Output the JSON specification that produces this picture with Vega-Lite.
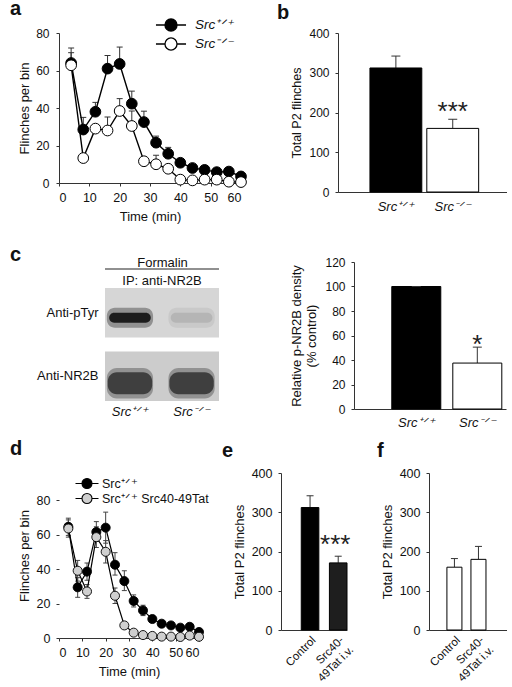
{
  "$schema": "https://vega.github.io/schema/vega-lite/v6.json",
  "padding": {"left": 10, "top": -1, "right": 0, "bottom": 0},
  "datasets": {
    "fa": [
      {"t": 4, "g": "wt", "v": 64, "hi": 72}, {"t": 8, "g": "wt", "v": 28.5, "hi": 35}, {"t": 12, "g": "wt", "v": 38, "hi": 43},
      {"t": 16, "g": "wt", "v": 61, "hi": 68}, {"t": 20, "g": "wt", "v": 63.5, "hi": 72.5}, {"t": 24, "g": "wt", "v": 42.3, "hi": 49},
      {"t": 28, "g": "wt", "v": 32.5, "hi": 38.3}, {"t": 32, "g": "wt", "v": 21.5, "hi": 25}, {"t": 36, "g": "wt", "v": 15.6, "hi": 19},
      {"t": 40, "g": "wt", "v": 10.8, "hi": 12.5}, {"t": 44, "g": "wt", "v": 8, "hi": 9.5}, {"t": 48, "g": "wt", "v": 7, "hi": 8.3},
      {"t": 52, "g": "wt", "v": 5.8, "hi": 7}, {"t": 56, "g": "wt", "v": 6.1, "hi": 7}, {"t": 60, "g": "wt", "v": 3.5, "hi": 4.5},
      {"t": 4, "g": "ko", "v": 62.8, "hi": 69.5}, {"t": 8, "g": "ko", "v": 13.3, "hi": 14}, {"t": 12, "g": "ko", "v": 29, "hi": 30},
      {"t": 16, "g": "ko", "v": 28, "hi": 35.2}, {"t": 20, "g": "ko", "v": 38.4, "hi": 45}, {"t": 24, "g": "ko", "v": 30.4, "hi": 38.4},
      {"t": 28, "g": "ko", "v": 11.6, "hi": 12}, {"t": 32, "g": "ko", "v": 10, "hi": 14.8}, {"t": 36, "g": "ko", "v": 7.6, "hi": 8},
      {"t": 40, "g": "ko", "v": 1.8, "hi": 2}, {"t": 44, "g": "ko", "v": 1.4, "hi": 1.6}, {"t": 48, "g": "ko", "v": 1.8, "hi": 2},
      {"t": 52, "g": "ko", "v": 1.8, "hi": 2}, {"t": 56, "g": "ko", "v": 0.7, "hi": 1}, {"t": 60, "g": "ko", "v": 0.5, "hi": 0.6}
    ],
    "fd": [
      {"t": 4, "g": "wt", "v": 64.5, "lo": 59.5, "hi": 69.5}, {"t": 8, "g": "wt", "v": 29.4, "lo": 23.6, "hi": 35},
      {"t": 12, "g": "wt", "v": 38.5, "lo": 33.5, "hi": 43.5}, {"t": 16, "g": "wt", "v": 61.5, "lo": 56, "hi": 67.5},
      {"t": 20, "g": "wt", "v": 64, "lo": 55, "hi": 73}, {"t": 24, "g": "wt", "v": 42.5, "lo": 36.5, "hi": 49.5},
      {"t": 28, "g": "wt", "v": 33, "lo": 27.5, "hi": 39}, {"t": 32, "g": "wt", "v": 21.5, "lo": 18, "hi": 25},
      {"t": 36, "g": "wt", "v": 16, "lo": 13, "hi": 19}, {"t": 40, "g": "wt", "v": 11, "lo": 9, "hi": 13},
      {"t": 44, "g": "wt", "v": 8.3, "lo": 7, "hi": 9.6}, {"t": 48, "g": "wt", "v": 7.3, "lo": 6.3, "hi": 8.3},
      {"t": 52, "g": "wt", "v": 6, "lo": 5, "hi": 7}, {"t": 56, "g": "wt", "v": 6.5, "lo": 5.5, "hi": 7.5},
      {"t": 60, "g": "wt", "v": 3.5, "lo": 2.5, "hi": 4.5},
      {"t": 4, "g": "tat", "v": 63.5, "lo": 58.5, "hi": 68.5}, {"t": 8, "g": "tat", "v": 39, "lo": 33, "hi": 45},
      {"t": 12, "g": "tat", "v": 27, "lo": 23, "hi": 31}, {"t": 16, "g": "tat", "v": 58.5, "lo": 52.5, "hi": 64.5},
      {"t": 20, "g": "tat", "v": 50, "lo": 43.5, "hi": 56.5}, {"t": 24, "g": "tat", "v": 24.5, "lo": 20, "hi": 29},
      {"t": 28, "g": "tat", "v": 7.3, "lo": 6.3, "hi": 8.3}, {"t": 32, "g": "tat", "v": 3.1, "lo": 2.5, "hi": 3.7},
      {"t": 36, "g": "tat", "v": 1.7, "lo": 1.2, "hi": 2.2}, {"t": 40, "g": "tat", "v": 1.2, "lo": 0.8, "hi": 1.6},
      {"t": 44, "g": "tat", "v": 0.8, "lo": 0.5, "hi": 1.1}, {"t": 48, "g": "tat", "v": 0.8, "lo": 0.5, "hi": 1.1},
      {"t": 52, "g": "tat", "v": 0.6, "lo": 0.4, "hi": 0.8}, {"t": 56, "g": "tat", "v": 1.4, "lo": 1, "hi": 1.8},
      {"t": 60, "g": "tat", "v": 0.7, "lo": 0.4, "hi": 1}
    ],
    "bb": [{"g": "wt", "v": 312, "hi": 342, "star": ""}, {"g": "ko", "v": 160, "hi": 183, "star": "***"}],
    "cb": [{"g": "wt", "v": 100, "hi": 100, "star": ""}, {"g": "ko", "v": 37.5, "hi": 50.5, "star": "*"}],
    "eb": [{"g": "Control", "v": 312, "hi": 342, "star": ""}, {"g": "Src40", "v": 171, "hi": 188, "star": "***"}],
    "fb": [{"g": "Control", "v": 160, "hi": 182, "star": ""}, {"g": "Src40", "v": 180, "hi": 213, "star": ""}],
    "blotbg": [{"row": "Anti-pTyr", "hdr": "IP: anti-NR2B"}, {"row": "Anti-NR2B", "hdr": "IP: anti-NR2B"}],
    "bands": [
      {"row": "Anti-pTyr", "lane": "wt", "level": 1.0}, {"row": "Anti-pTyr", "lane": "ko", "level": 0.15},
      {"row": "Anti-NR2B", "lane": "wt", "level": 0.75}, {"row": "Anti-NR2B", "lane": "ko", "level": 0.75}
    ]
  },
  "vconcat": [
    {
      "hconcat": [
        {
          "width": 182, "height": 150,
          "title": {"text": "a", "dx": -49, "offset": -4},
          "data": {"name": "fa"},
          "encoding": {
            "x": {"field": "t", "type": "quantitative", "scale": {"domain": [0, 60], "nice": false}, "axis": {"values": [0, 10, 20, 30, 40, 50, 60], "title": "Time (min)", "tickSize": 3, "labelPadding": 5, "titlePadding": 7, "labelFontSize": 12.5, "titleFontSize": 13}},
            "y": {"field": "v", "type": "quantitative", "scale": {"domain": [0, 80], "nice": false}, "axis": {"values": [0, 20, 40, 60, 80], "title": "Flinches per bin", "tickSize": 3, "labelPadding": 7, "titlePadding": 4, "labelFontSize": 12, "titleFontSize": 13}}
          },
          "layer": [
            {"mark": {"type": "rule", "color": "#333", "strokeWidth": 1}, "encoding": {"y2": {"field": "hi"}}},
            {"mark": {"type": "tick", "orient": "horizontal", "color": "#333", "size": 6, "thickness": 1, "opacity": 1},
             "encoding": {"y": {"field": "hi", "type": "quantitative", "scale": {"domain": [0, 80], "nice": false}, "axis": {"values": [0, 20, 40, 60, 80], "title": "Flinches per bin", "tickSize": 3, "labelPadding": 7, "titlePadding": 4, "labelFontSize": 12, "titleFontSize": 13}}}},
            {"mark": {"type": "line", "color": "black", "strokeWidth": 1.4}, "encoding": {"detail": {"field": "g"}}},
            {"mark": {"type": "circle", "size": 115, "stroke": "black", "strokeWidth": 1, "opacity": 1},
             "encoding": {"fill": {"field": "g", "type": "nominal", "scale": {"domain": ["wt", "ko"], "range": ["black", "white"]},
               "legend": {"orient": "none", "legendX": 102, "legendY": -18, "title": null, "padding": 0, "rowPadding": 0,
                 "labelExpr": "datum.value == 'wt' ? 'Src⁺ᐟ⁺' : 'Src⁻ᐟ⁻'", "labelFontStyle": "italic", "labelFontSize": 13.5, "labelColor": "#111",
                 "symbolType": "M-1.67,0H-0.67M0.67,0H1.67M-0.67,0A0.67,0.67,0,1,1,0.67,0A0.67,0.67,0,1,1,-0.67,0Z",
                 "symbolSize": 324, "symbolStrokeColor": "black", "symbolStrokeWidth": 1.3, "labelOffset": 14}}}}
          ]
        },
        {
          "width": 169, "height": 159,
          "title": {"text": "b", "dx": -61, "offset": 4},
          "data": {"name": "bb"},
          "encoding": {
            "x": {"field": "g", "type": "nominal", "sort": null, "scale": {"paddingInner": 0.088, "paddingOuter": 0.53, "align": 0.53},
              "axis": {"title": null, "ticks": false, "labelAngle": 0, "labelFontStyle": "italic", "labelFontSize": 13, "labelPadding": 8, "labelExpr": "datum.value == 'wt' ? 'Src⁺ᐟ⁺' : 'Src⁻ᐟ⁻'"}},
            "y": {"field": "v", "type": "quantitative", "scale": {"domain": [0, 400], "nice": false}, "axis": {"values": [0, 100, 200, 300, 400], "title": "Total P2 flinches", "tickSize": 3, "labelPadding": 6, "titlePadding": 5, "labelFontSize": 12, "titleFontSize": 12.5}}
          },
          "layer": [
            {"mark": {"type": "rule", "color": "#333"}, "encoding": {"y2": {"field": "hi"}}},
            {"mark": {"type": "bar", "stroke": "black", "strokeWidth": 1}, "encoding": {"fill": {"field": "g", "type": "nominal", "scale": {"domain": ["wt", "ko"], "range": ["black", "white"]}, "legend": null}}},
            {"mark": {"type": "tick", "orient": "horizontal", "color": "#333", "size": 9, "thickness": 1, "opacity": 1},
             "encoding": {"y": {"field": "hi", "type": "quantitative", "scale": {"domain": [0, 400], "nice": false}, "axis": {"values": [0, 100, 200, 300, 400], "title": "Total P2 flinches", "tickSize": 3, "labelPadding": 6, "titlePadding": 5, "labelFontSize": 12, "titleFontSize": 12.5}}}},
            {"mark": {"type": "text", "fontSize": 26, "baseline": "alphabetic", "dy": 1, "color": "#222"},
             "encoding": {"y": {"field": "hi", "type": "quantitative", "scale": {"domain": [0, 400], "nice": false}, "axis": {"values": [0, 100, 200, 300, 400], "title": "Total P2 flinches", "tickSize": 3, "labelPadding": 6, "titlePadding": 5, "labelFontSize": 12, "titleFontSize": 12.5}}, "text": {"field": "star"}}}
          ]
        }
      ],
      "spacing": 97, "bounds": "flush",
      "resolve": {"scale": {"fill": "independent", "color": "independent"}, "legend": {"fill": "independent", "color": "independent"}}
    },
    {
      "vconcat": [
        {
          "hconcat": [
            {"width": 1, "height": 1, "data": {"values": []}, "mark": {"type": "point", "opacity": 0}, "encoding": {}},
            {
              "hconcat": [
                {
                  "width": 114, "height": 139,
                  "title": {"text": "c", "dx": -95, "offset": -9},
                  "layer": [
                    {
                      "data": {"name": "blotbg"},
                      "layer": [
                        {"mark": {"type": "rect"},
                         "encoding": {
                           "x": {"field": "hdr", "type": "nominal", "scale": {"paddingInner": 0, "paddingOuter": 0},
                             "axis": {"orient": "top", "title": "Formalin", "titleFontSize": 13, "titlePadding": -7, "ticks": false, "domain": true, "domainOpacity": 0, "labelPadding": -18, "labelBaseline": "middle", "labelFontSize": 13, "labelAngle": 0}},
                           "y": {"field": "row", "type": "nominal", "sort": null, "scale": {"domain": ["Anti-pTyr", "Anti-NR2B"], "paddingInner": 0.22, "paddingOuter": 0.205, "align": 1},
                             "axis": {"title": null, "ticks": false, "domain": false, "labelFontSize": 13, "labelPadding": 7}},
                           "color": {"field": "row", "type": "nominal", "scale": {"domain": ["Anti-pTyr", "Anti-NR2B"], "range": ["#d6d6d6", "#cccccc"]}, "legend": null}
                         }},
                        {"transform": [{"filter": "datum.row == 'Anti-pTyr'"}],
                         "mark": {"type": "rule", "color": "#222", "strokeWidth": 1.2, "yOffset": -19},
                         "encoding": {
                           "x": {"field": "hdr", "type": "nominal", "bandPosition": 0, "scale": {"paddingInner": 0, "paddingOuter": 0},
                             "axis": {"orient": "top", "title": "Formalin", "titleFontSize": 13, "titlePadding": -7, "ticks": false, "domain": true, "domainOpacity": 0, "labelPadding": -18, "labelBaseline": "middle", "labelFontSize": 13, "labelAngle": 0}},
                           "x2": {"field": "hdr", "bandPosition": 1},
                           "y": {"field": "row", "type": "nominal", "bandPosition": 0, "sort": null, "scale": {"domain": ["Anti-pTyr", "Anti-NR2B"], "paddingInner": 0.22, "paddingOuter": 0.205, "align": 1},
                             "axis": {"title": null, "ticks": false, "domain": false, "labelFontSize": 13, "labelPadding": 7}}
                         }}
                      ]
                    },
                    {
                      "data": {"name": "bands"},
                      "encoding": {
                        "x": {"field": "lane", "type": "nominal", "sort": null, "scale": {"domain": ["wt", "ko"], "paddingInner": 0.25, "paddingOuter": 0.05, "align": 0.3},
                          "axis": {"orient": "bottom", "title": null, "ticks": false, "domain": false, "labelAngle": 0, "labelFontStyle": "italic", "labelFontSize": 13, "labelPadding": 4, "labelExpr": "datum.value == 'wt' ? 'Src⁺ᐟ⁺' : 'Src⁻ᐟ⁻'"}},
                        "y": {"field": "row", "type": "nominal", "sort": null, "scale": {"domain": ["Anti-pTyr", "Anti-NR2B"], "paddingInner": 0.22, "paddingOuter": 0.205, "align": 1},
                          "axis": {"title": null, "ticks": false, "domain": false, "labelFontSize": 13, "labelPadding": 7}},
                        "color": {"field": "level", "type": "quantitative", "scale": {"domain": [0, 1], "range": ["#d4d4d4", "#111111"]}, "legend": null}
                      },
                      "layer": [
                        {"transform": [{"filter": "datum.row == 'Anti-pTyr'"}], "mark": {"type": "rect", "height": {"band": 0.4}, "yOffset": 5, "opacity": 0.35, "cornerRadius": 8}},
                        {"transform": [{"filter": "datum.row == 'Anti-pTyr'"}], "mark": {"type": "rect", "height": {"band": 0.2}, "width": {"band": 0.9}, "yOffset": 5, "opacity": 0.9, "cornerRadius": 5}},
                        {"transform": [{"filter": "datum.row == 'Anti-NR2B'"}], "mark": {"type": "rect", "height": {"band": 0.62}, "yOffset": 7, "opacity": 0.4, "cornerRadius": 10}},
                        {"transform": [{"filter": "datum.row == 'Anti-NR2B'"}], "mark": {"type": "rect", "height": {"band": 0.44}, "width": {"band": 0.96}, "yOffset": 7, "opacity": 0.95, "cornerRadius": 9}}
                      ]
                    }
                  ],
                  "resolve": {"scale": {"x": "independent", "color": "independent"}, "axis": {"x": "independent"}}
                },
                {
                  "width": 152, "height": 147,
                  "data": {"name": "cb"},
                  "encoding": {
                    "x": {"field": "g", "type": "nominal", "sort": null, "scale": {"paddingInner": 0.197, "paddingOuter": 0.344, "align": 0.9},
                      "axis": {"title": null, "ticks": false, "labelAngle": 0, "labelFontStyle": "italic", "labelFontSize": 13, "labelPadding": 7, "labelExpr": "datum.value == 'wt' ? 'Src⁺ᐟ⁺' : 'Src⁻ᐟ⁻'"}},
                    "y": {"field": "v", "type": "quantitative", "scale": {"domain": [0, 120], "nice": false}, "axis": {"values": [0, 20, 40, 60, 80, 100, 120], "title": ["Relative p-NR2B density", "(% control)"], "tickSize": 3, "labelPadding": 6, "titlePadding": 6, "labelFontSize": 12, "titleFontSize": 13}}
                  },
                  "layer": [
                    {"mark": {"type": "rule", "color": "#333"}, "encoding": {"y2": {"field": "hi"}}},
                    {"mark": {"type": "bar", "stroke": "black", "strokeWidth": 1}, "encoding": {"fill": {"field": "g", "type": "nominal", "scale": {"domain": ["wt", "ko"], "range": ["black", "white"]}, "legend": null}}},
                    {"mark": {"type": "tick", "orient": "horizontal", "color": "#333", "size": 9, "thickness": 1, "opacity": 1},
                     "encoding": {"y": {"field": "hi", "type": "quantitative", "scale": {"domain": [0, 120], "nice": false}, "axis": {"values": [0, 20, 40, 60, 80, 100, 120], "title": ["Relative p-NR2B density", "(% control)"], "tickSize": 3, "labelPadding": 6, "titlePadding": 6, "labelFontSize": 12, "titleFontSize": 13}}}},
                    {"mark": {"type": "text", "fontSize": 26, "baseline": "alphabetic", "dy": 6, "color": "#222"},
                     "encoding": {"y": {"field": "hi", "type": "quantitative", "scale": {"domain": [0, 120], "nice": false}, "axis": {"values": [0, 20, 40, 60, 80, 100, 120], "title": ["Relative p-NR2B density", "(% control)"], "tickSize": 3, "labelPadding": 6, "titlePadding": 6, "labelFontSize": 12, "titleFontSize": 13}}, "text": {"field": "star"}}}
                  ]
                }
              ],
              "spacing": 135, "bounds": "flush",
              "resolve": {"scale": {"fill": "independent", "color": "independent"}, "legend": {"fill": "independent", "color": "independent"}}
            }
          ],
          "spacing": 45, "bounds": "flush",
          "resolve": {"scale": {"fill": "independent", "color": "independent"}, "legend": {"fill": "independent", "color": "independent"}}
        },
        {
          "hconcat": [
            {
              "width": 140, "height": 165,
              "title": {"text": "d", "dx": -49, "offset": 14},
              "data": {"name": "fd"},
              "encoding": {
                "x": {"field": "t", "type": "quantitative", "scale": {"domain": [0, 60], "nice": false}, "axis": {"values": [0, 10, 20, 30, 40, 50, 60], "title": "Time (min)", "tickSize": 3, "labelPadding": 5, "titlePadding": 7, "labelFontSize": 12.5, "titleFontSize": 13}},
                "y": {"field": "v", "type": "quantitative", "scale": {"domain": [0, 95.7], "nice": false}, "axis": {"values": [0, 20, 40, 60, 80], "domain": false, "title": "Flinches per bin", "tickSize": 3, "labelPadding": 6, "titlePadding": 5, "labelFontSize": 12.5, "titleFontSize": 13}}
              },
              "layer": [
                {"data": {"values": [{}]}, "mark": {"type": "rule", "color": "#333"}, "encoding": {"x": {"datum": 0, "type": "quantitative"}, "y": {"datum": 0, "type": "quantitative"}, "y2": {"datum": 80}}},
                {"mark": {"type": "rule", "color": "#444"}, "encoding": {"y": {"field": "lo", "type": "quantitative"}, "y2": {"field": "hi"}}},
                {"mark": {"type": "tick", "orient": "horizontal", "color": "#444", "size": 5, "thickness": 1, "opacity": 1},
                 "encoding": {"y": {"field": "hi", "type": "quantitative"}}},
                {"mark": {"type": "tick", "orient": "horizontal", "color": "#444", "size": 5, "thickness": 1, "opacity": 1},
                 "encoding": {"y": {"field": "lo", "type": "quantitative"}}},
                {"mark": {"type": "line", "color": "black", "strokeWidth": 1.2}, "encoding": {"detail": {"field": "g"}}},
                {"mark": {"type": "circle", "size": 82, "stroke": "black", "strokeWidth": 0.9, "opacity": 1},
                 "encoding": {"fill": {"field": "g", "type": "nominal", "scale": {"domain": ["wt", "tat"], "range": ["black", "#cfcfcf"]},
                   "legend": {"orient": "none", "legendX": 20.5, "legendY": 3, "title": null, "padding": 0, "rowPadding": 0,
                     "labelExpr": "datum.value == 'wt' ? 'Src⁺ᐟ⁺' : 'Src⁺ᐟ⁺ Src40-49Tat'", "labelFontSize": 12.5, "labelColor": "#111",
                     "symbolType": "M-1.77,0H-0.77M0.77,0H1.77M-0.77,0A0.77,0.77,0,1,1,0.77,0A0.77,0.77,0,1,1,-0.77,0Z",
                     "symbolSize": 169, "symbolStrokeColor": "black", "symbolStrokeWidth": 1.1, "labelOffset": 7.5,
                     "encode": {"labels": {"update": {"fontStyle": {"signal": "datum.index === 0 ? 'italic' : 'normal'"}}}}}}}}
              ]
            },
            {
              "width": 66, "height": 157,
              "title": {"text": "e", "dx": -59, "offset": 6},
              "data": {"name": "eb"},
              "encoding": {
                "x": {"field": "g", "type": "nominal", "sort": null, "scale": {"paddingInner": 0.375, "paddingOuter": 0.36, "align": 1},
                  "axis": {"title": null, "ticks": false, "labelAngle": -45, "labelAlign": "right", "labelBaseline": "top", "labelFontSize": 11.5, "labelPadding": 4, "labelExpr": "datum.value == 'Src40' ? ['Src40-', '49Tat i.v.'] : 'Control'"}},
                "y": {"field": "v", "type": "quantitative", "scale": {"domain": [0, 400], "nice": false}, "axis": {"values": [0, 100, 200, 300, 400], "title": "Total P2 flinches", "tickSize": 3, "labelPadding": 6, "titlePadding": 5, "labelFontSize": 12.5, "titleFontSize": 13}}
              },
              "layer": [
                {"mark": {"type": "rule", "color": "#333"}, "encoding": {"y2": {"field": "hi"}}},
                {"mark": {"type": "bar", "stroke": "black", "strokeWidth": 1}, "encoding": {"fill": {"field": "g", "type": "nominal", "scale": {"domain": ["Control", "Src40"], "range": ["black", "#1e1e1e"]}, "legend": null}}},
                {"mark": {"type": "tick", "orient": "horizontal", "color": "#333", "size": 7, "thickness": 1, "opacity": 1},
                 "encoding": {"y": {"field": "hi", "type": "quantitative", "scale": {"domain": [0, 400], "nice": false}, "axis": {"values": [0, 100, 200, 300, 400], "title": "Total P2 flinches", "tickSize": 3, "labelPadding": 6, "titlePadding": 5, "labelFontSize": 12.5, "titleFontSize": 13}}}},
                {"mark": {"type": "text", "fontSize": 26, "baseline": "alphabetic", "dy": -3, "dx": -3, "color": "#222"},
                 "encoding": {"y": {"field": "hi", "type": "quantitative", "scale": {"domain": [0, 400], "nice": false}, "axis": {"values": [0, 100, 200, 300, 400], "title": "Total P2 flinches", "tickSize": 3, "labelPadding": 6, "titlePadding": 5, "labelFontSize": 12.5, "titleFontSize": 13}}, "text": {"field": "star"}}}
              ]
            },
            {
              "width": 78, "height": 157,
              "title": {"text": "f", "dx": -52, "offset": 6},
              "data": {"name": "fb"},
              "encoding": {
                "x": {"field": "g", "type": "nominal", "sort": null, "scale": {"paddingInner": 0.375, "paddingOuter": 0.81, "align": 0.46},
                  "axis": {"title": null, "ticks": false, "labelAngle": -45, "labelAlign": "right", "labelBaseline": "top", "labelFontSize": 11.5, "labelPadding": 4, "labelExpr": "datum.value == 'Src40' ? ['Src40-', '49Tat i.v.'] : 'Control'"}},
                "y": {"field": "v", "type": "quantitative", "scale": {"domain": [0, 400], "nice": false}, "axis": {"values": [0, 100, 200, 300, 400], "title": "Total P2 flinches", "tickSize": 3, "labelPadding": 6, "titlePadding": 5, "labelFontSize": 12.5, "titleFontSize": 13}}
              },
              "layer": [
                {"mark": {"type": "rule", "color": "#333"}, "encoding": {"y2": {"field": "hi"}}},
                {"mark": {"type": "bar", "stroke": "black", "strokeWidth": 1, "fill": "white"}},
                {"mark": {"type": "tick", "orient": "horizontal", "color": "#333", "size": 7, "thickness": 1, "opacity": 1},
                 "encoding": {"y": {"field": "hi", "type": "quantitative", "scale": {"domain": [0, 400], "nice": false}, "axis": {"values": [0, 100, 200, 300, 400], "title": "Total P2 flinches", "tickSize": 3, "labelPadding": 6, "titlePadding": 5, "labelFontSize": 12.5, "titleFontSize": 13}}}}
              ]
            }
          ],
          "spacing": 82, "bounds": "flush",
          "resolve": {"scale": {"fill": "independent", "color": "independent"}, "legend": {"fill": "independent", "color": "independent"}}
        }
      ],
      "spacing": 10,
      "resolve": {"scale": {"fill": "independent", "color": "independent"}, "legend": {"fill": "independent", "color": "independent"}}
    }
  ],
  "spacing": 21,
  "resolve": {"scale": {"fill": "independent", "color": "independent"}, "legend": {"fill": "independent", "color": "independent"}},
  "config": {
    "font": "Liberation Sans",
    "view": {"stroke": null},
    "axis": {"labelFont": "Liberation Sans", "titleFont": "Liberation Sans", "labelFontSize": 12, "titleFontSize": 13, "titleFontWeight": "normal", "labelColor": "#111", "titleColor": "#111", "domainColor": "#333", "tickColor": "#333", "grid": false, "tickSize": 3},
    "title": {"font": "Liberation Sans", "fontSize": 20, "fontWeight": "bold", "anchor": "start", "frame": "group", "color": "#111"},
    "legend": {"labelFont": "Liberation Sans"}
  }
}
